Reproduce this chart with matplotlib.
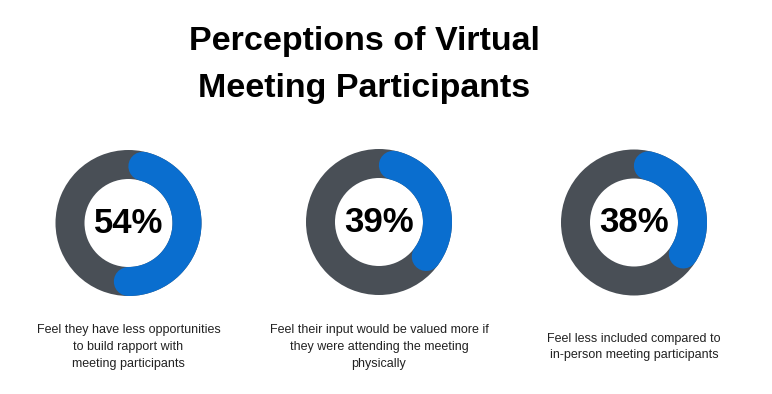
import numpy as np
import matplotlib.pyplot as plt
from matplotlib.patches import Wedge

plt.rcParams['font.family'] = ['Liberation Sans', 'DejaVu Sans']

title_lines = ['Perceptions of Virtual', 'Meeting Participants']
values = [54, 39, 38]
labels = ['54%', '39%', '38%']
captions = [
    'Feel they have less opportunities\nto build rapport with\nmeeting participants',
    'Feel their input would be valued more if\nthey were attending the meeting\nphysically',
    'Feel less included compared to\nin-person meeting participants',
]

gray = '#494f56'
blue = '#0a6ecf'

fig = plt.figure(figsize=(7.72, 3.94), dpi=100)
ax = fig.add_axes([0, 0, 1, 1])
ax.set_xlim(0, 772)
ax.set_ylim(394, 0)
ax.axis('off')

centers = [(128.5, 223), (379, 222), (634, 222.5)]
r_out, ring = 73, 29
r_mid = r_out - ring / 2
cap = (ring / 2) / r_mid  # radians taken by the round cap
lw = ring * 72 / fig.dpi

for (cx, cy), v, lab, cap_txt in zip(centers, values, labels, captions):
    ax.add_patch(Wedge((cx, cy), r_out, 0, 360, width=ring, color=gray, lw=0))
    t = np.linspace(cap, v / 100 * 2 * np.pi - cap, 200)
    ax.plot(cx + r_mid * np.sin(t), cy - r_mid * np.cos(t), color=blue,
            lw=lw, solid_capstyle='round')
    ax.text(cx, cy, lab, ha='center', va='center', fontsize=25,
            fontweight='bold', color='black')
    ax.text(cx, 347, cap_txt, ha='center', va='center', fontsize=9,
            color='#222222', linespacing=1.5)

# title, one line at a time
for y, line in zip([50, 97], title_lines):
    ax.text(364, y, line, ha='center', va='baseline', fontsize=24.5,
            fontweight='bold', color='black')

fig.savefig('out.png', dpi=100, facecolor='white')
